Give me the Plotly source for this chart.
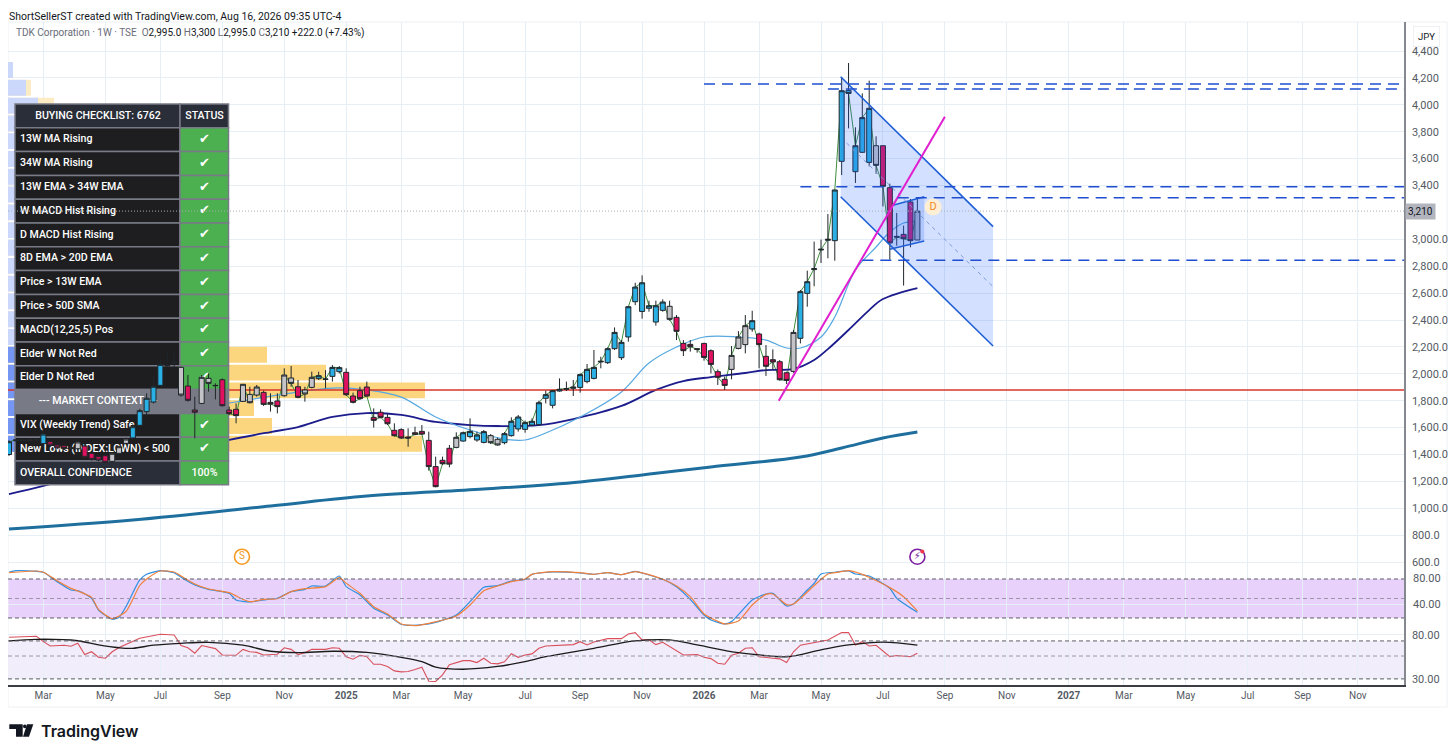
import pandas as pd
import plotly.graph_objects as go

# Weekly candles, oldest first (prices)
impulse = ("bbbbbb" "rrrr" "g" "rrrr" "ggg" "bbbbbbb" "g" "rr" "gg" "rrrr" "ggg" "rrr" "gg" "r" "gg" "bbbb"
           "rrrrrrrrrrrrrrrr" "g" "bbbb" "gg" "bbbbbbbbbbbbbbbbbbbbbbbb" "g" "rrrrrrrr" "ggg" "b" "rrrrr" "g"
           "bbbbbbbbbbb" "g" "rrrrr" "g")
opens = [1400, 1503, 1503, 1505, 1508, 1481, 1495, 1470, 1465, 1453, 1443, 1463, 1409, 1384, 1391, 1349, 1409, 1483, 1523, 1617, 1719, 1790, 1914, 2058, 2080,
         2048, 1909, 1731, 1780, 1966, 1914, 1956, 1731, 1736, 1795, 1847, 1842, 1862, 1788, 1798, 1837, 1969, 1904, 1880, 1899, 1964, 1959, 1981, 2016,
         2011, 1835, 1875, 1902, 1676, 1714, 1676, 1580, 1585, 1530, 1562, 1572, 1505, 1310, 1357, 1446, 1453, 1500, 1533, 1508, 1490, 1540, 1513, 1488,
         1540, 1590, 1587, 1619, 1622, 1818, 1766, 1872, 1885, 1892, 1899, 1942, 1966, 2088, 2083, 2187, 2120, 2274, 2536, 2464, 2487, 2385, 2472, 2502,
         2420, 2226, 2219, 2187, 2226, 2172, 2016, 1959, 2033, 2189, 2217, 2333, 2296, 2130, 2105, 2090, 2008, 2018, 2264, 2598, 2775, 2921, 2993, 2990,
         3580, 4108, 3503, 3647, 3572, 3696, 3696, 3384, 3022, 3037, 3278, 2995]
highs = [1505, 1512, 1512, 1514, 1518, 1565, 1505, 1480, 1475, 1470, 1510, 1480, 1420, 1400, 1405, 1415, 1465, 1525, 1625, 1740, 1855, 1979, 2115, 2165, 2165,
         2053, 1991, 1830, 1991, 2003, 1929, 1966, 1756, 1780, 1924, 1904, 1917, 1875, 1855, 1855, 2041, 2058, 1954, 1904, 2016, 2016, 2028, 2065, 2058,
         2041, 1860, 1904, 1942, 1743, 1736, 1706, 1632, 1595, 1595, 1607, 1619, 1570, 1384, 1384, 1471, 1565, 1570, 1669, 1570, 1582, 1552, 1525, 1567,
         1676, 1694, 1652, 1669, 1800, 1875, 1880, 1966, 1942, 1954, 2003, 2073, 2177, 2127, 2197, 2345, 2251, 2504, 2677, 2732, 2544, 2544, 2554, 2544,
         2437, 2251, 2251, 2192, 2231, 2182, 2033, 1979, 2207, 2318, 2437, 2469, 2306, 2214, 2182, 2103, 2016, 2326, 2623, 2767, 2983, 2998, 3188, 3367,
         4204, 4311, 3833, 4085, 4180, 3766, 3696, 3414, 3196, 3102, 3300, 3300]
lows = [1390, 1495, 1495, 1498, 1500, 1470, 1460, 1440, 1435, 1430, 1430, 1370, 1355, 1350, 1335, 1340, 1400, 1475, 1510, 1605, 1680, 1780, 1904, 2053, 2028,
        1830, 1793, 1520, 1775, 1867, 1810, 1756, 1694, 1632, 1793, 1780, 1830, 1761, 1719, 1706, 1830, 1904, 1818, 1793, 1892, 1954, 1892, 1942, 2003,
        1835, 1780, 1805, 1830, 1600, 1669, 1619, 1533, 1515, 1458, 1543, 1545, 1280, 1156, 1322, 1305, 1446, 1495, 1520, 1495, 1483, 1478, 1466, 1476,
        1533, 1570, 1562, 1612, 1614, 1780, 1743, 1867, 1872, 1835, 1860, 1929, 1959, 2041, 2073, 2177, 2103, 2239, 2511, 2410, 2462, 2358, 2462, 2395,
        2251, 2132, 2165, 2157, 2098, 2003, 1917, 1880, 1959, 2182, 2152, 2313, 2041, 1984, 2028, 1949, 1924, 2008, 2226, 2499, 2651, 2824, 2859, 2841,
        3478, 3825, 3419, 3642, 3543, 3488, 3245, 2849, 2953, 2656, 2941, 2995]
closes = [1495, 1508, 1508, 1510, 1513, 1552, 1470, 1450, 1445, 1443, 1493, 1379, 1364, 1359, 1342, 1409, 1458, 1515, 1607, 1726, 1818, 1907, 2070, 2063, 2085,
          1842, 1803, 1714, 1974, 1929, 1912, 1763, 1704, 1689, 1922, 1785, 1902, 1773, 1775, 1756, 1991, 1929, 1825, 1850, 1974, 1986, 1961, 2048, 2046,
          1845, 1788, 1815, 1835, 1654, 1676, 1629, 1540, 1523, 1523, 1550, 1552, 1310, 1161, 1332, 1329, 1528, 1562, 1572, 1545, 1570, 1488, 1471, 1555,
          1647, 1679, 1637, 1647, 1785, 1845, 1875, 1885, 1890, 1902, 1994, 2033, 2048, 2093, 2187, 2308, 2234, 2499, 2645, 2677, 2506, 2506, 2534, 2405,
          2316, 2172, 2202, 2182, 2122, 2070, 1974, 1914, 2137, 2274, 2358, 2395, 2217, 2056, 2088, 1956, 1951, 2308, 2611, 2685, 2782, 2926, 3000, 3367,
          4105, 4085, 3696, 3905, 3974, 3550, 3394, 2973, 3017, 3005, 2990, 3210]

# Moving averages, keyed by "weeks back from the last bar"
ma13_weeks = [125, 110, 100, 85, 80, 75, 70, 65, 60, 57, 54, 49, 43, 39, 35, 31, 26, 22, 19, 17, 14, 12, 9, 6, 4, 2, 0]
ma13_vals = [1500, 1700, 1783, 1894, 1880, 1827, 1679, 1582, 1515, 1508, 1560, 1679, 1865, 2080, 2199, 2274, 2274, 2251, 2192, 2192, 2274, 2422, 2772, 2943, 3054, 3121, 3136]
ma34_weeks = [132, 127, 119, 110, 100, 94, 90, 85, 80, 75, 70, 65, 61, 55, 50, 43, 38, 34, 30, 25, 22, 18, 15, 13, 10, 7, 5, 0]
ma34_vals = [1106, 1166, 1285, 1396, 1508, 1567, 1604, 1679, 1708, 1694, 1642, 1619, 1612, 1619, 1664, 1761, 1880, 1946, 1976, 2006, 2028, 2036, 2103, 2184, 2326, 2474, 2556, 2638]
ma200_weeks = [132, 114, 94, 80, 63, 49, 40, 30, 17, 11, 5, 0]
ma200_vals = [846, 913, 1017, 1091, 1143, 1196, 1248, 1307, 1381, 1448, 1523, 1567]

# Stochastic pane
stoch_k_weeks = [132, 131, 128, 127, 125, 123, 122, 120, 119, 117, 116, 115, 113, 112, 110, 108, 107, 105, 103, 100, 99, 97, 95, 94, 93, 91, 89, 88, 86, 84, 83, 81, 79, 77, 75, 74, 71, 67, 65, 63, 61,
                 59, 57, 56, 53, 49, 47, 45, 43, 41, 39, 37, 35, 33, 31, 30, 28, 27, 24, 22, 21, 19, 18, 16, 15, 14, 12, 10, 9, 7, 4, 3, 0]
stoch_k = [90.3, 92.8, 91.8, 90.3, 75.9, 63.1, 62, 50.3, 32.3, 18, 21, 37.4, 78.5, 87.2, 92.8, 89.7, 82.6, 70.8, 64.1, 58, 47.7, 44.6, 47.7, 49.2, 50.3, 60.5, 64.1, 69.2, 69.2, 84.6, 68.2, 55.4, 34.9, 24.6, 10.3, 8.7, 10.8, 24.6, 45.1, 67.2, 69.7,
           76.9, 79.5, 87.2, 90.8, 89.2, 87.2, 89.7, 86.7, 91.8, 86.2, 79.5, 68.2, 48.7, 24.6, 16.9, 10.8, 14.4, 47.7, 56.9, 57.9, 38.5, 41.5, 63.1, 73.3, 87.7, 90.3, 92.3, 87.7, 84.6, 65.6, 50.3, 28.7]
stoch_d_weeks = [132, 128, 127, 125, 123, 122, 120, 119, 117, 115, 113, 112, 110, 108, 107, 105, 103, 100, 98, 97, 95, 93, 91, 89, 86, 84, 83, 81, 79, 77, 75, 73, 71, 67, 65, 63, 61,
                 59, 57, 56, 53, 49, 47, 45, 43, 41, 39, 37, 35, 33, 31, 29, 28, 26, 24, 22, 21, 19, 18, 16, 15, 13, 12, 10, 8, 7, 4, 2, 0]
stoch_d = [89.7, 92.3, 90.3, 77.4, 65.6, 61.5, 51.8, 33.3, 19, 30, 70, 80, 92.3, 90.8, 84.6, 72.3, 64.6, 59, 48.7, 45.1, 48.7, 49.7, 60.5, 65.1, 68.2, 82, 73.3, 58, 37.4, 26.2, 10.8, 8.2, 11.8, 23.1, 40, 62, 69.2,
           75.9, 80, 87.2, 91.3, 89.7, 87.2, 89.7, 86.7, 91.3, 86.7, 79.5, 69.2, 52.8, 26.2, 14.9, 10.8, 15.4, 40, 56.4, 56.9, 40.5, 41.5, 60, 70, 87.7, 89.7, 92.8, 87.2, 82.6, 66.7, 52.8, 30.8]

# RSI pane (log scale)
rsi_weeks = [132, 128, 127, 126, 124, 123, 122, 121, 120, 119, 118, 117, 116, 114, 113, 110, 108, 107, 106, 105, 104, 102, 101, 99, 98, 97, 96, 95, 93, 92, 91, 90, 89, 88, 86, 85, 84, 83, 82, 81, 80, 79, 78, 77, 76, 75, 74, 73, 72, 71, 70, 69, 68, 66, 65, 64, 63, 62, 61, 60,
             59, 58, 57, 56, 55, 54, 52, 50, 49, 48, 47, 45, 43, 42, 41, 40, 39, 38, 37, 34, 32, 31, 30, 29, 28, 27, 26, 25, 24, 23, 21, 20, 19, 18, 17, 16, 14, 13, 11, 10, 9, 8, 7, 6, 4, 3, 1, 0]
rsi_vals = [76, 77.7, 68.9, 62.6, 63.6, 62.2, 66.4, 51.6, 55, 48.6, 47.6, 55, 60.5, 68.9, 74.3, 81.2, 80, 63.1, 60.1, 53.2, 63.1, 59, 51.2, 50.8, 58, 55, 54.2, 51.2, 52, 60.1, 58, 51.6, 53.8, 58, 58, 60.1, 59.4, 49.2, 46.6, 50.8, 49.2, 41.6, 41.6, 39.6, 35.9, 35.1, 35.4, 37, 39, 28.5, 28.3, 32.8, 41.1, 45.1, 45.1, 43.2, 47.6, 42.6, 42, 44,
            52.7, 48.6, 51.2, 52.4, 59.4, 62.6, 64, 64.5, 68.9, 64, 68.3, 73.7, 73.7, 81.8, 84.3, 71.6, 71.6, 64.5, 67.9, 51.2, 51.6, 48.6, 47.2, 42.6, 41.6, 50.8, 53.2, 59.4, 60.1, 49.2, 47.6, 46.9, 43.2, 55, 63.6, 65.5, 70.3, 71.6, 84.3, 84.3, 64, 68.9, 62.6, 63.6, 49.2, 50.5, 49.2, 53.2]
rsi_ma_weeks = [132, 128, 122, 119, 116, 114, 111, 107, 103, 98, 94, 90, 85, 80, 75, 72, 70, 66, 61, 57, 54, 47, 41, 36, 32, 26, 23, 19, 14, 10, 5, 0]
rsi_ma_vals = [70, 72.6, 70.3, 64, 60.1, 59.4, 63.6, 66.4, 67.9, 63.6, 55.6, 53.8, 55.6, 54.2, 48.6, 44.2, 39, 37.2, 39.6, 44.2, 49.2, 59.4, 70, 71.6, 64, 53.8, 51.2, 49.2, 57.3, 64, 68.3, 63.6]
rsi_overbought = [(114, 107), (45, 39), (15, 9)]

# Volume profile rows, top to bottom
vp_levels = [4259, 4127, 3994, 3862, 3730, 3597, 3465, 3333, 3200, 3068, 2936, 2803, 2671, 2539, 2406, 2274, 2142, 2009, 1877, 1745, 1612, 1480]
vp_blue = [5, 18, 30, 40, 50, 45, 60, 60, 70, 55, 60, 50, 45, 55, 60, 65, 95, 120, 155, 90, 100, 150]
vp_total = [5, 23, 46, 70, 90, 80, 110, 110, 130, 100, 110, 90, 85, 100, 110, 120, 259, 318, 417, 246, 264, 414]

# Drawings
hlevels = [4155, 4117, 3391, 3309, 2844]
hstarts = ["2026-01-05", "2026-05-11", "2026-04-13", "2026-07-21", "2026-06-15"]
red_level = 1880
last_close = 3210
channel_x = ["2026-05-24", "2026-10-26", "2026-10-26", "2026-05-24"]
channel_y = [4209, 3094, 2207, 3317]
median_x = ["2026-05-30", "2026-10-26"]
median_y = [3716, 2648]
flag_x = ["2026-07-17", "2026-08-17", "2026-08-17", "2026-07-13"]
flag_y = [3255, 3317, 2987, 2926]
trend_x = ["2026-03-22", "2026-09-07"]
trend_y = [1800, 3912]

# Checklist
table_rows = ["BUYING CHECKLIST: 6762", "13W MA Rising", "34W MA Rising", "13W EMA > 34W EMA", "W MACD Hist Rising", "D MACD Hist Rising",
              "8D EMA > 20D EMA", "Price > 13W EMA", "Price > 50D SMA", "MACD(12,25,5) Pos", "Elder W Not Red", "Elder D Not Red",
              "--- MARKET CONTEXT ---", "VIX (Weekly Trend) Safe", "New Lows (INDEX:LOWN) < 500", "OVERALL CONFIDENCE"]
table_status = ["STATUS"] + ["✔"] * 11 + [""] + ["✔"] * 2 + ["100%"]

# Axis ticks
price_ticks = [4400, 4200, 4000, 3800, 3600, 3400, 3000, 2800, 2600, 2400, 2200, 2000, 1800, 1600, 1400, 1200, 1000, 800, 600]
price_labels = ["4,400", "4,200", "4,000", "3,800", "3,600", "3,400", "3,000.0", "2,800.0", "2,600.0", "2,400.0", "2,200.0", "2,000.0",
                "1,800.0", "1,600.0", "1,400.0", "1,200.0", "1,000.0", "800.0", "600.0"]
date_ticks = ["2024-03-04", "2024-05-06", "2024-07-01", "2024-09-02", "2024-11-04", "2025-01-06", "2025-03-03", "2025-05-05", "2025-07-07", "2025-09-01",
              "2025-11-03", "2026-01-05", "2026-03-02", "2026-05-04", "2026-07-06", "2026-09-07", "2026-11-09", "2027-01-11", "2027-03-08", "2027-05-10",
              "2027-07-12", "2027-09-06", "2027-11-01"]
date_labels = ["Mar", "May", "Jul", "Sep", "Nov", "<b>2025</b>", "Mar", "May", "Jul", "Sep", "Nov", "<b>2026</b>", "Mar", "May", "Jul", "Sep", "Nov", "<b>2027</b>",
               "Mar", "May", "Jul", "Sep", "Nov"]

# Page geometry: the browser keeps an 8px body margin, so the figure is 16px smaller than the page
BODY = 8
W, H = 1456 - 2 * BODY, 755 - 2 * BODY
LEFT, RIGHT, TOP, BOTTOM = 8, 1404, 22, 685
DATE_RANGE = ["2024-01-28", "2027-12-18"]
PRICE_RANGE = [571, 4616]
GRID = "#e6eff5"
FONT = "Roboto"


def px_x(x):
    return (x - LEFT) / (RIGHT - LEFT)


def px_y(y):
    return (BOTTOM - y) / (BOTTOM - TOP)


weeks = pd.date_range(end="2026-08-10", periods=len(closes), freq="W-MON")


def week(n_list):
    return [weeks[-1 - n] for n in n_list]


fig = go.Figure()

# volume profile sits at the very bottom
fig.add_trace(go.Bar(y=vp_levels, x=vp_total, orientation="h", width=118, xaxis="x", yaxis="y",
                     marker=dict(color=["#fdebc4" if i < 16 else "#fbd67f" for i in range(len(vp_levels))], line_width=0)))
fig.add_trace(go.Bar(y=vp_levels, x=vp_blue, orientation="h", width=118, xaxis="x", yaxis="y",
                     marker=dict(color=["#cbd7fb" if i < 16 else "#7696f3" for i in range(len(vp_levels))], line_width=0)))

# lines that go under the table
fig.add_trace(go.Scatter(x=weeks, y=closes, mode="lines", line=dict(color="#3f8f3f", width=1), xaxis="x2", yaxis="y2"))
fig.add_trace(go.Scatter(x=week(ma200_weeks), y=ma200_vals, mode="lines", line=dict(color="#1f6f9e", width=3, shape="spline"), xaxis="x2", yaxis="y2"))
fig.add_trace(go.Scatter(x=week(ma34_weeks), y=ma34_vals, mode="lines", line=dict(color="#1c1c8c", width=1.8, shape="spline"), xaxis="x2", yaxis="y2"))
fig.add_trace(go.Scatter(x=week(ma13_weeks), y=ma13_vals, mode="lines", line=dict(color="#56a8e0", width=1.2, shape="spline"), xaxis="x2", yaxis="y2"))
fig.add_trace(go.Scatter(x=DATE_RANGE, y=[red_level, red_level], mode="lines", line=dict(color="#d7352b", width=1.5), xaxis="x2", yaxis="y2"))

# checklist table
rows = list(range(len(table_rows)))
label_fill = ["#2a2e39" if i in (0, 15) else "#787b86" if i == 12 else "#1e1e20" for i in rows]
status_fill = ["#2a2e39" if i == 0 else "#787b86" if i == 12 else "#4caf50" for i in rows]
fig.add_trace(go.Bar(y=rows, x=[165] * 16, base=[7] * 16, width=1, orientation="h", xaxis="x3", yaxis="y3",
                     marker=dict(color=label_fill, line=dict(color="#787b86", width=1.5))))
fig.add_trace(go.Bar(y=rows, x=[48.5] * 16, base=[172] * 16, width=1, orientation="h", xaxis="x3", yaxis="y3",
                     marker=dict(color=status_fill, line=dict(color="#787b86", width=1.5))))
left_rows = [i for i in rows if i not in (0, 12)]
fig.add_trace(go.Scatter(x=[12] * len(left_rows), y=left_rows, text=[table_rows[i] for i in left_rows], mode="text", textposition="middle right",
                         textfont=dict(family=FONT, size=10.6, color="white", weight=500), xaxis="x3", yaxis="y3"))
fig.add_trace(go.Scatter(x=[90, 90], y=[0, 12], text=[table_rows[0], table_rows[12]], mode="text", textposition="middle center",
                         textfont=dict(family=FONT, size=10.6, color="white", weight=500), xaxis="x3", yaxis="y3"))
status_rows = [i for i in rows if table_status[i] == "✔"]
word_rows = [0, 15]
fig.add_trace(go.Scatter(x=[196.5] * len(status_rows), y=status_rows, text=[table_status[i] for i in status_rows], mode="text", textposition="middle center",
                         textfont=dict(family="DejaVu Sans", size=13, color="white"), xaxis="x3", yaxis="y3"))
fig.add_trace(go.Scatter(x=[196.5] * 2, y=word_rows, text=[table_status[i] for i in word_rows], mode="text", textposition="middle center",
                         textfont=dict(family=FONT, size=10.6, color="white", weight=500), xaxis="x3", yaxis="y3"))

# candles, one trace per impulse colour
impulse_colors = {"b": "#2ab0e4", "r": "#e0115f", "g": "#c4c4c8"}
for code, color in impulse_colors.items():
    idx = [i for i, c in enumerate(impulse) if c == code]
    style = dict(fillcolor=color, line=dict(color="#20262a", width=1))
    fig.add_trace(go.Candlestick(x=[weeks[i] for i in idx], open=[opens[i] for i in idx], high=[highs[i] for i in idx],
                                 low=[lows[i] for i in idx], close=[closes[i] for i in idx], increasing=style, decreasing=style,
                                 whiskerwidth=0, xaxis="x4", yaxis="y4"))

# drawings above the candles
fig.add_trace(go.Scatter(x=channel_x, y=channel_y, fill="toself", fillcolor="rgba(41,98,255,0.2)", mode="none", xaxis="x4", yaxis="y4"))
fig.add_trace(go.Scatter(x=flag_x, y=flag_y, fill="toself", fillcolor="rgba(41,98,255,0.2)", mode="none", xaxis="x4", yaxis="y4"))
for xs, ys in [(channel_x[:2], channel_y[:2]), (channel_x[3:1:-1], channel_y[3:1:-1]), (flag_x[:2], flag_y[:2]), (flag_x[3:1:-1], flag_y[3:1:-1])]:
    fig.add_trace(go.Scatter(x=xs, y=ys, mode="lines", line=dict(color="#1f5fd6", width=1.6), xaxis="x4", yaxis="y4"))
fig.add_trace(go.Scatter(x=median_x, y=median_y, mode="lines", line=dict(color="#7e9bd8", width=1, dash="4px,4px"), xaxis="x4", yaxis="y4"))
fig.add_trace(go.Scatter(x=trend_x, y=trend_y, mode="lines", line=dict(color="#e01fd0", width=2), xaxis="x4", yaxis="y4"))
for level, start in zip(hlevels, hstarts):
    fig.add_trace(go.Scatter(x=[start, DATE_RANGE[1]], y=[level, level], mode="lines", line=dict(color="#1f4fd0", width=1.5, dash="11px,7px"), xaxis="x4", yaxis="y4"))
fig.add_trace(go.Scatter(x=DATE_RANGE, y=[last_close, last_close], mode="lines", line=dict(color="#a9adb6", width=1, dash="1px,2px"), xaxis="x4", yaxis="y4"))

# event badges
fig.add_trace(go.Scatter(x=["2026-08-26"], y=[3240], mode="markers+text", text=["D"], textposition="middle center",
                         marker=dict(size=17, color="#fdeed6"), textfont=dict(family=FONT, size=11, color="#f28c1c"), xaxis="x4", yaxis="y4"))
fig.add_trace(go.Scatter(x=["2024-09-22"], y=[640], mode="markers+text", text=["S"], textposition="middle center",
                         marker=dict(size=15, color="white", line=dict(color="#f59a23", width=1.6)), textfont=dict(family=FONT, size=10, color="#f59a23"), xaxis="x4", yaxis="y4"))
fig.add_trace(go.Scatter(x=[weeks[-1]], y=[640], mode="markers+text", text=["⚡"], textposition="middle center",
                         marker=dict(size=15, color="white", line=dict(color="#7b1fa2", width=1.6)), textfont=dict(family="DejaVu Sans", size=10, color="#7b1fa2"), xaxis="x4", yaxis="y4"))
fig.add_trace(go.Scatter(x=["2026-08-15"], y=[678], mode="markers", marker=dict(size=4, color="#f23645"), xaxis="x4", yaxis="y4"))

# stochastic
fig.add_trace(go.Scatter(x=week(stoch_k_weeks), y=stoch_k, mode="lines", line=dict(color="#2f8fe0", width=1.2, shape="spline", smoothing=0.6), xaxis="x5", yaxis="y5"))
fig.add_trace(go.Scatter(x=week(stoch_d_weeks), y=stoch_d, mode="lines", line=dict(color="#f0803c", width=1.2, shape="spline", smoothing=0.6), xaxis="x5", yaxis="y5"))

# rsi
for first, last in rsi_overbought:
    pairs = [(n, v) for n, v in zip(rsi_weeks, rsi_vals) if last <= n <= first]
    fig.add_trace(go.Scatter(x=week([p[0] for p in pairs]), y=[70] * len(pairs), mode="none", xaxis="x6", yaxis="y6"))
    fig.add_trace(go.Scatter(x=week([p[0] for p in pairs]), y=[max(p[1], 70) for p in pairs], mode="none", fill="tonexty",
                             fillcolor="rgba(76,175,80,0.3)", xaxis="x6", yaxis="y6"))
fig.add_trace(go.Scatter(x=week(rsi_weeks), y=rsi_vals, mode="lines", line=dict(color="#d94f5c", width=1.1), xaxis="x6", yaxis="y6"))
fig.add_trace(go.Scatter(x=week(rsi_ma_weeks), y=rsi_ma_vals, mode="lines", line=dict(color="#1b1b1b", width=1.3, shape="spline"), xaxis="x6", yaxis="y6"))

# pane bands and guide lines
shapes = [
    dict(type="rect", xref="paper", yref="y5", x0=0, x1=1, y0=20, y1=80, fillcolor="#e8d2fb", line_width=0, layer="below"),
    dict(type="rect", xref="paper", yref="y6", x0=0, x1=1, y0=30, y1=70, fillcolor="#f1edfa", line_width=0, layer="below"),
    dict(type="rect", xref="paper", yref="paper", x0=0, x1=px_x(1447), y0=px_y(707), y1=1, line=dict(color="#eef0f3", width=1), layer="below"),
]
for axis, level in [("y5", 80), ("y5", 20), ("y6", 70), ("y6", 30)]:
    shapes.append(dict(type="line", xref="paper", yref=axis, x0=0, x1=1, y0=level, y1=level, line=dict(color="#5d5d66", width=1, dash="4px,3px")))
for axis, level in [("y5", 50), ("y6", 50)]:
    shapes.append(dict(type="line", xref="paper", yref=axis, x0=0, x1=1, y0=level, y1=level, line=dict(color="#9a96a8", width=1, dash="4px,3px")))

# TradingView mark
mark = [
    [(9.3, 724.3), (22.7, 724.3), (22.7, 736.7), (16, 736.7), (16, 729), (9.3, 729)],
    [(27, 724.3), (33.3, 724.3), (29, 736.7), (23, 736.7)],
]
for poly in mark:
    path = "M " + " L ".join(f"{px_x(x):.5f},{px_y(y):.5f}" for x, y in poly) + " Z"
    shapes.append(dict(type="path", xref="paper", yref="paper", path=path, fillcolor="#131722", line_width=0))
shapes.append(dict(type="circle", xref="paper", yref="paper", x0=px_x(23), x1=px_x(26.6), y0=px_y(728.2), y1=px_y(724.6), fillcolor="#131722", line_width=0))

grey = "color:#6a6d78"
legend_text = (f"<span style='{grey}'>TDK Corporation · 1W · TSE  O</span>2,995.0 <span style='{grey}'>H</span>3,300 "
               f"<span style='{grey}'>L</span>2,995.0 <span style='{grey}'>C</span>3,210 +222.0 (+7.43%)")
annotations = [
    # top edge of the figure is at page y=8, so the text box can't sit any higher than this
    dict(xref="paper", yref="paper", x=0, y=px_y(8.5), text="ShortSellerST created with TradingView.com, Aug 16, 2026 09:35 UTC-4", showarrow=False,
         xanchor="left", yanchor="top", borderpad=0, font=dict(family=FONT, size=10.5, color="#131722")),
    dict(xref="paper", yref="paper", x=px_x(14), y=px_y(33), text=legend_text, showarrow=False, xanchor="left", yanchor="middle", font=dict(family=FONT, size=10, color="#131722")),
    dict(xref="paper", yref="paper", x=px_x(39), y=px_y(731), text="TradingView", showarrow=False, xanchor="left", yanchor="middle", font=dict(family="Inter", size=16, color="#131722", weight=600)),
    dict(xref="paper", yref="paper", x=px_x(1426), y=px_y(36), text="JPY", showarrow=False, xanchor="center", yanchor="middle", font=dict(family=FONT, size=9.5, color="#131722"), bordercolor="#eef0f3", borderpad=4),
    dict(xref="paper", yref="y", x=px_x(1405), y=last_close, text="3,210", showarrow=False, xanchor="left", yanchor="middle", bgcolor="#b2b5be", borderpad=2, font=dict(family=FONT, size=10, color="#131722")),
    dict(xref="paper", yref="y5", x=px_x(1411), y=80, text="80.00", showarrow=False, xanchor="left", yanchor="middle", font=dict(family=FONT, size=11, color="#555a63")),
    dict(xref="paper", yref="y5", x=px_x(1411), y=40, text="40.00", showarrow=False, xanchor="left", yanchor="middle", font=dict(family=FONT, size=11, color="#555a63")),
]

axis_line = dict(showline=True, linecolor="#85888f", linewidth=1.5)
tick_font = dict(family=FONT, size=11, color="#555a63")
hidden_date = dict(type="date", range=DATE_RANGE, tickmode="array", tickvals=date_ticks, ticktext=date_labels, showticklabels=False,
                   showgrid=True, gridcolor=GRID, zeroline=False, ticks="", rangeslider=dict(visible=False))
price_top = px_y(566)
stoch_bottom = px_y(630)

fig.update_layout(
    width=W, height=H, margin=dict(l=LEFT - BODY, r=W + BODY - RIGHT, t=TOP - BODY, b=H + BODY - BOTTOM), paper_bgcolor="white", plot_bgcolor="white",
    showlegend=False, hovermode=False, barmode="overlay", boxgap=0.27, boxgroupgap=0, shapes=shapes, annotations=annotations,
    font=dict(family=FONT, size=10, color="#555a63"),
    # volume profile axes carry the price scale
    xaxis=dict(range=[0, RIGHT - LEFT], visible=False, anchor="y"),
    yaxis=dict(domain=[price_top, 1], range=PRICE_RANGE, side="right", tickmode="array", tickvals=price_ticks, ticktext=price_labels, tickfont=tick_font,
               ticklabelstandoff=4, gridcolor=GRID, zeroline=False, **axis_line),
    xaxis2=dict(overlaying="x", anchor="y2", **hidden_date),
    yaxis2=dict(overlaying="y", range=PRICE_RANGE, visible=False, anchor="x2"),
    xaxis3=dict(overlaying="x", range=[0, RIGHT - LEFT], visible=False, anchor="y3"),
    yaxis3=dict(overlaying="y", range=[18.912, -3.945], visible=False, anchor="x3"),
    xaxis4=dict(overlaying="x", anchor="y4", type="date", range=DATE_RANGE, visible=False, rangeslider=dict(visible=False)),
    yaxis4=dict(overlaying="y", range=PRICE_RANGE, visible=False, anchor="x4"),
    xaxis5=dict(anchor="y5", domain=[0, 1], **hidden_date),
    yaxis5=dict(domain=[stoch_bottom, price_top], range=[1.5, 100], side="right", tickmode="array", tickvals=[100, 40, 0], ticktext=["", "", ""], gridcolor=GRID, zeroline=False, anchor="x5", **axis_line),
    xaxis6=dict(anchor="y6", domain=[0, 1], **{**hidden_date, "showticklabels": True}, showline=True, linecolor="#3a3d44", linewidth=1.5,
                tickfont=dict(family=FONT, size=10, color="#555a63")),
    yaxis6=dict(domain=[0, stoch_bottom], type="log", range=[1.418, 1.951], side="right", tickmode="array", tickvals=[80, 30], ticktext=["80.00", "30.00"], tickfont=tick_font,
                ticklabelstandoff=4, gridcolor=GRID, zeroline=False, anchor="x6", **axis_line),
)

fig.write_html("out.html")
